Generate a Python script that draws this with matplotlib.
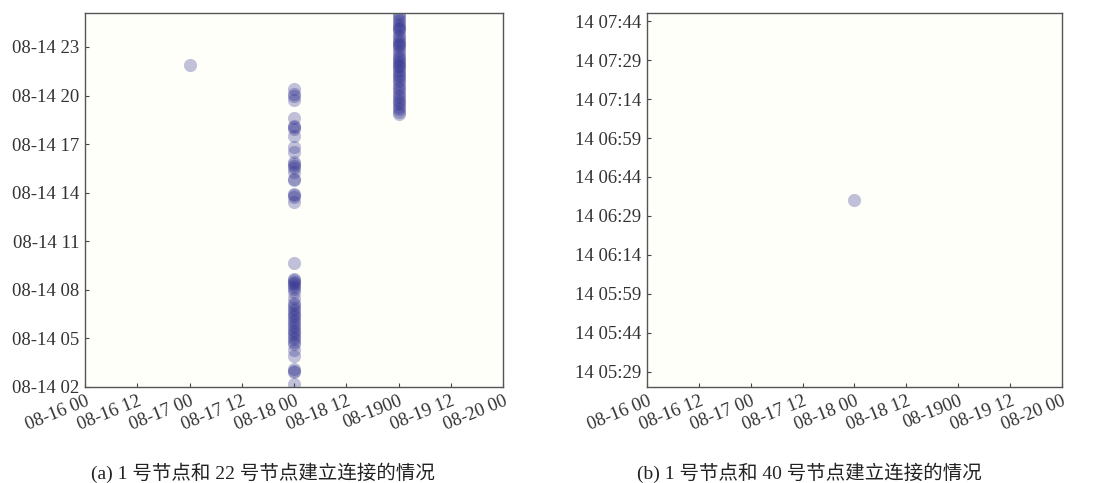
import matplotlib
matplotlib.use("Agg")
import matplotlib.pyplot as plt

plt.rcParams['font.family'] = ['Liberation Serif', 'Noto Sans CJK SC']

# x axis: hours since 08-16 00
x_ticks = [0, 12, 24, 36, 48, 60, 72, 84, 96]
x_labels = ['08-16 00', '08-16 12', '08-17 00', '08-17 12', '08-18 00',
            '08-18 12', '08-1900', '08-19 12', '08-20 00']

# (a) node 1 - node 22 : y is hour of 08-14, one list per x position
a_day17 = [21.9]
a_day18 = [20.42, 20.1, 20.0, 19.7, 18.6, 18.1, 18.05, 17.95, 17.53, 16.8,
           16.5, 15.9, 15.8, 15.64, 15.5, 15.27, 14.86, 14.8, 13.93, 13.85,
           13.73, 13.42,
           9.67, 8.7, 8.6, 8.48, 8.4, 8.28, 8.2, 8.07, 7.86, 7.5, 7.2, 7.04,
           6.9, 6.73, 6.6, 6.42, 6.3, 6.12, 6.0, 5.81, 5.7, 5.5, 5.4, 5.29,
           5.1, 4.98, 4.8, 4.67, 4.3, 3.89, 3.13, 3.0, 2.93, 2.21]
a_day19 = [18.87, 19.0, 19.18, 19.3, 19.45, 19.59, 19.7, 19.9, 20.05, 20.2,
           20.42, 20.55, 20.7, 20.93, 21.05, 21.2, 21.3, 21.44, 21.55, 21.75,
           21.85, 21.95, 22.06, 22.2, 22.35, 22.47, 22.6, 22.8, 22.99, 23.1,
           23.2, 23.3, 23.45, 23.6, 23.75, 24.0, 24.1, 24.2, 24.3, 24.45,
           24.6, 24.75, 24.94, 25.05]
a_yticks = [2, 5, 8, 11, 14, 17, 20, 23]
a_ylabels = ['08-14 02', '08-14 05', '08-14 08', '08-14 11', '08-14 14',
             '08-14 17', '08-14 20', '08-14 23']

# (b) node 1 - node 40 : y is minutes of day 14
b_x = [48]
b_y = [395]
b_yticks = [329, 344, 359, 374, 389, 404, 419, 434, 449, 464]
b_ylabels = ['14 05:29', '14 05:44', '14 05:59', '14 06:14', '14 06:29',
             '14 06:44', '14 06:59', '14 07:14', '14 07:29', '14 07:44']

fig = plt.figure(figsize=(11.03, 4.83), dpi=100)
ax1 = fig.add_axes([0.0771, 0.1988, 0.379, 0.7743])
ax2 = fig.add_axes([0.5866, 0.1988, 0.3762, 0.7743])

dot = '#30308f'
for xpos, ys in [(24, a_day17), (48, a_day18), (72, a_day19)]:
    ax1.scatter([xpos] * len(ys), ys, s=90, color=dot, alpha=0.3,
                linewidths=0)
ax2.scatter(b_x, b_y, s=90, color=dot, alpha=0.3, linewidths=0)

ax1.set_ylim(2, 25.1)
ax1.set_yticks(a_yticks)
ax1.set_yticklabels(a_ylabels)
ax2.set_ylim(323.2, 467.1)
ax2.set_yticks(b_yticks)
ax2.set_yticklabels(b_ylabels)

for ax in (ax1, ax2):
    ax.set_xlim(0, 96)
    ax.set_xticks(x_ticks)
    ax.set_xticklabels(x_labels, rotation=22, ha='right', va='top',
                       rotation_mode='anchor')
    ax.set_facecolor('#fffffa')
    ax.tick_params(direction='in', length=3, width=0.8, labelsize=13.5,
                   color='#444444', labelcolor='#333333', pad=4)
    for sp in ax.spines.values():
        sp.set_color('#555555')
        sp.set_linewidth(1.0)

fig.text(0.238, 0.022, '(a) 1 号节点和 22 号节点建立连接的情况',
         ha='center', va='center', fontsize=14, color='#222222')
fig.text(0.734, 0.022, '(b) 1 号节点和 40 号节点建立连接的情况',
         ha='center', va='center', fontsize=14, color='#222222')

fig.savefig('out.png', dpi=100)
